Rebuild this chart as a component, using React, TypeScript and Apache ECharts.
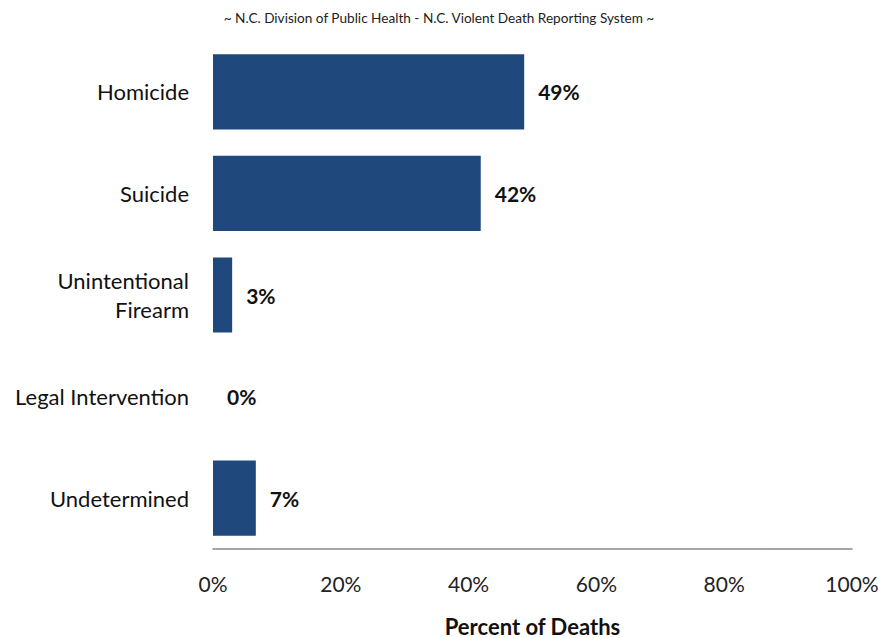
import React, { useEffect, useRef } from "react";
import * as echarts from "echarts";

const categories = ["Homicide", "Suicide", "Unintentional\nFirearm", "Legal Intervention", "Undetermined"];
const percentValues = [48.7, 41.9, 3.0, 0, 6.7];
const xTicks = [0, 20, 40, 60, 80, 100];
const titleText = "~ N.C. Division of Public Health - N.C. Violent Death Reporting System ~";
const xAxisName = "Percent of Deaths";

const FONT = "Lato, 'Open Sans', sans-serif";

export default function App() {
  const ref = useRef<HTMLDivElement>(null);
  useEffect(() => {
    document.body.style.margin = "0";
    const chart = echarts.init(ref.current!, null, { renderer: "svg" });
    chart.setOption({
      animation: false,
      backgroundColor: "#ffffff",
      title: {
        text: titleText,
        left: "center",
        top: 6,
        textStyle: { fontSize: 13.6, fontWeight: "normal", color: "#222", fontFamily: FONT },
      },
      grid: { left: 213, right: 26, top: 41, bottom: 89, containLabel: false, outerBoundsMode: "none" },
      xAxis: {
        type: "value",
        min: xTicks[0],
        max: xTicks[xTicks.length - 1],
        interval: 20,
        axisLine: { show: true, lineStyle: { color: "#888888", width: 1.5 } },
        axisTick: { show: false },
        splitLine: { show: false },
        axisLabel: {
          formatter: (v: number) => v + "%",
          fontSize: 21,
          color: "#222",
          fontFamily: FONT,
          margin: 24,
        },
        name: xAxisName,
        nameLocation: "middle",
        nameGap: 66,
        nameTextStyle: { fontSize: 22, fontWeight: "bold", color: "#111", fontFamily: FONT },
      },
      yAxis: {
        type: "category",
        data: categories,
        inverse: true,
        axisLine: { show: false },
        axisTick: { show: false },
        axisLabel: {
          fontSize: 22,
          color: "#111",
          fontFamily: FONT,
          margin: 24,
          lineHeight: 29,
          align: "right",
        },
      },
      series: [
        {
          type: "bar",
          data: percentValues,
          barCategoryGap: "26%",
          itemStyle: { color: "#1F497D" },
          label: {
            show: true,
            position: "right",
            distance: 14,
            formatter: (p: any) => Math.round(p.value) + "%",
            fontSize: 21,
            fontWeight: "bold",
            color: "#111",
            fontFamily: FONT,
          },
        },
      ],
    });
    return () => chart.dispose();
  }, []);
  return <div ref={ref} style={{ width: 878, height: 638 }} />;
}
